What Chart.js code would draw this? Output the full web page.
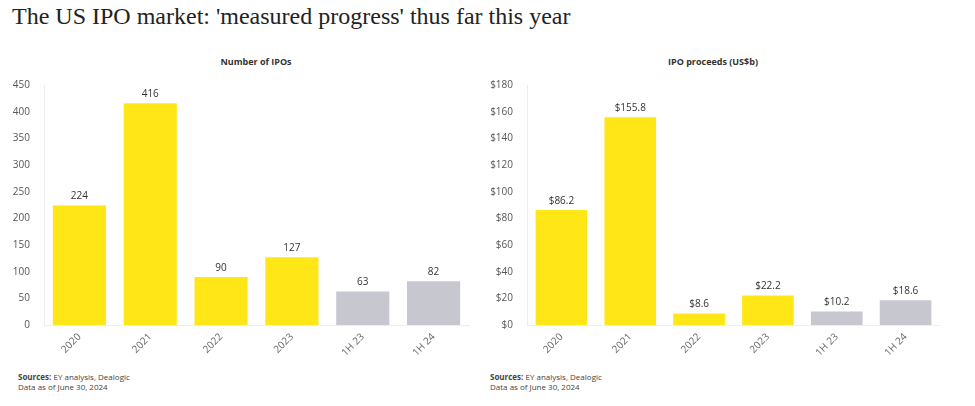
<!DOCTYPE html>
<html><head><meta charset="utf-8">
<script src="https://cdn.jsdelivr.net/npm/chart.js@4"></script>
<style>
body{margin:0;width:975px;height:406px;background:#fff;position:relative;overflow:hidden;font-family:"Open Sans",Arial,sans-serif;}
#title{position:absolute;left:12px;top:3px;font-family:"Liberation Serif","Times New Roman",serif;font-size:24px;color:#222;}
.sub{position:absolute;top:55px;font-size:9px;font-weight:bold;color:#333;width:480px;text-align:center;}
.src{position:absolute;top:372px;font-size:8px;color:#444;line-height:10px;}
.box{position:absolute;top:52px;width:480px;height:303px;}
</style></head><body>
<div id="title">The US IPO market: 'measured progress' thus far this year</div>
<div class="sub" style="left:16px">Number of IPOs</div>
<div class="sub" style="left:473px">IPO proceeds (US$b)</div>
<div class="box" style="left:0"><canvas id="c1"></canvas></div>
<div class="box" style="left:480px"><canvas id="c2"></canvas></div>
<div class="src" style="left:18px"><b>Sources:</b> EY analysis, Dealogic<br>Data as of June 30, 2024</div>
<div class="src" style="left:490px"><b>Sources:</b> EY analysis, Dealogic<br>Data as of June 30, 2024</div>
<script>
const categories=["2020","2021","2022","2023","1H 23","1H 24"];
const ipoCounts=[224,416,90,127,63,82];
const ipoProceeds=[86.2,155.8,8.6,22.2,10.2,18.6];
const barColors=["#FFE617","#FFE617","#FFE617","#FFE617","#C7C7CF","#C7C7CF"];
const labelPlugin={id:'lbl',afterDatasetsDraw(ch,a,o){const ctx=ch.ctx;const meta=ch.getDatasetMeta(0);ctx.save();ctx.font='10px "Open Sans"';ctx.fillStyle='#333';ctx.textAlign='center';ctx.textBaseline='bottom';meta.data.forEach((b,i)=>{ctx.fillText(o.fmt(ch.data.datasets[0].data[i]),b.x,b.y-4);});ctx.restore();}};
function make(id,data,max,step,tick,fmt,yw,pr){
new Chart(document.getElementById(id),{type:'bar',data:{labels:categories,datasets:[{data:data,backgroundColor:barColors,barPercentage:0.75,categoryPercentage:1}]},
options:{responsive:true,maintainAspectRatio:false,animation:false,layout:{padding:{top:33,right:pr,left:0,bottom:0}},
plugins:{legend:{display:false},tooltip:{enabled:false},lbl:{fmt:fmt}},
scales:{y:{min:0,max:max,ticks:{stepSize:step,callback:tick,color:'#555',font:{size:10,family:'Open Sans'},padding:6},grid:{display:false},border:{color:'#eee'},afterFit:s=>{s.width=yw;}},
x:{ticks:{color:'#666',font:{size:10,family:'Open Sans'},maxRotation:45,minRotation:45,padding:2},grid:{display:false,drawTicks:true,tickLength:4},border:{color:'#eee'},afterFit:s=>{s.height=30;}}}},plugins:[labelPlugin]});}
make('c1',ipoCounts,450,50,v=>v,v=>String(v),44,11);
make('c2',ipoProceeds,180,20,v=>'$'+v,v=>'$'+v.toFixed(1),47,20);
</script></body></html>
